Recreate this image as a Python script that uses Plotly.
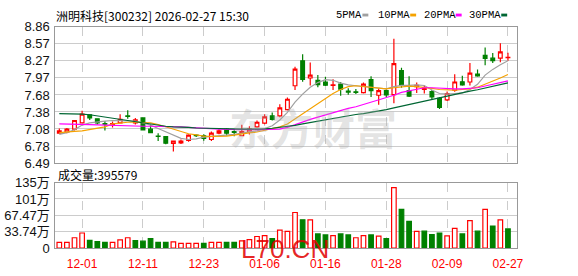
import plotly.graph_objects as go

W, H = 578, 276

dates = ["11-26", "11-27", "11-28",
         "12-01", "12-02", "12-03", "12-04", "12-05", "12-08", "12-09", "12-10", "12-11",
         "12-12", "12-15", "12-16", "12-17", "12-18", "12-19", "12-22", "12-23", "12-24",
         "12-25", "12-26", "12-29", "12-30", "12-31",
         "01-05", "01-06", "01-07", "01-08", "01-09", "01-12", "01-13", "01-14", "01-15",
         "01-16", "01-19", "01-20", "01-21", "01-22", "01-23", "01-26", "01-27", "01-28",
         "01-29", "01-30",
         "02-02", "02-03", "02-04", "02-05", "02-06", "02-09", "02-10", "02-11", "02-12",
         "02-13", "02-24", "02-25", "02-26", "02-27"]

opens = [7.01, 7.03, 7.08, 7.19, 7.33, 7.26, 7.175, 7.16, 7.19, 7.31,
         7.19, 7.275, 7.08, 6.96, 6.95, 6.83, 6.84, 6.885, 6.975, 6.965,
         6.90, 7.01, 7.08, 7.035, 6.965, 7.03, 7.12, 7.185, 7.31, 7.31,
         7.42, 7.835, 8.27, 7.97, 7.93, 7.90, 7.84, 7.865, 7.74, 7.73,
         7.715, 7.94, 7.67, 7.75, 7.68, 8.10, 7.75, 7.82, 7.77, 7.735,
         7.615, 7.59, 7.76, 7.905, 7.90, 8.04, 8.365, 8.315, 8.315, 8.325]
highs = [7.09, 7.10, 7.23, 7.40, 7.34, 7.27, 7.22, 7.215, 7.34, 7.41,
         7.275, 7.28, 7.16, 7.01, 6.95, 6.875, 6.90, 6.99, 6.99, 6.99,
         7.04, 7.08, 7.10, 7.06, 7.155, 7.13, 7.23, 7.34, 7.37, 7.515,
         7.63, 8.165, 8.385, 8.24, 8.02, 7.99, 7.95, 7.90, 7.79, 7.78,
         7.89, 8.00, 7.79, 7.77, 8.655, 8.15, 8.00, 7.89, 7.84, 7.76,
         7.64, 7.735, 8.035, 8.01, 8.23, 8.12, 8.50, 8.405, 8.575, 8.41]
lows = [7.00, 7.01, 7.055, 7.19, 7.24, 7.16, 7.055, 7.11, 7.19, 7.26,
        7.16, 7.065, 7.01, 6.875, 6.815, 6.69, 6.82, 6.86, 6.945, 6.88,
        6.875, 6.99, 6.97, 6.955, 6.96, 6.985, 7.105, 7.165, 7.23, 7.285,
        7.405, 7.76, 7.905, 7.84, 7.81, 7.83, 7.76, 7.66, 7.68, 7.69,
        7.70, 7.64, 7.505, 7.64, 7.53, 7.80, 7.64, 7.71, 7.70, 7.60,
        7.43, 7.57, 7.73, 7.835, 7.84, 7.99, 8.19, 8.23, 8.245, 8.27]
closes = [7.05, 7.08, 7.23, 7.34, 7.275, 7.19, 7.165, 7.175, 7.25, 7.30,
          7.24, 7.065, 7.02, 6.955, 6.835, 6.87, 6.87, 6.975, 6.965, 6.92,
          7.01, 7.05, 7.01, 7.025, 7.035, 7.08, 7.20, 7.295, 7.25, 7.45,
          7.60, 8.125, 7.945, 8.02, 7.855, 7.845, 7.85, 7.775, 7.725, 7.72,
          7.865, 7.75, 7.75, 7.675, 8.22, 7.845, 7.655, 7.84, 7.805, 7.64,
          7.46, 7.70, 7.90, 7.85, 8.055, 8.005, 8.31, 8.27, 8.425, 8.33]

ma5 = [6.99, 7.02, 7.07, 7.15, 7.19, 7.21, 7.22, 7.23, 7.23, 7.23,
       7.22, 7.19, 7.15, 7.09, 7.03, 6.97, 6.92, 6.90, 6.91, 6.94,
       6.95, 6.96, 6.98, 6.99, 7.01, 7.03, 7.05, 7.09, 7.14, 7.24,
       7.37, 7.55, 7.69, 7.81, 7.89, 7.94, 7.93, 7.88, 7.85, 7.835,
       7.82, 7.81, 7.79, 7.78, 7.82, 7.84, 7.84, 7.85, 7.84, 7.76,
       7.70, 7.69, 7.70, 7.71, 7.77, 7.86, 8.02, 8.12, 8.20, 8.27]
ma10 = [7.02, 7.035, 7.04, 7.05, 7.07, 7.09, 7.12, 7.17, 7.19, 7.20,
        7.20, 7.20, 7.19, 7.16, 7.12, 7.07, 7.03, 7.00, 6.98, 6.96,
        6.955, 6.955, 6.96, 6.975, 7.00, 7.015, 7.03, 7.06, 7.09, 7.12,
        7.17, 7.26, 7.34, 7.43, 7.53, 7.62, 7.70, 7.77, 7.82, 7.835,
        7.82, 7.81, 7.79, 7.78, 7.80, 7.82, 7.83, 7.82, 7.81, 7.79,
        7.77, 7.76, 7.76, 7.77, 7.78, 7.81, 7.86, 7.91, 7.97, 8.03]
ma20 = [7.17, 7.17, 7.17, 7.16, 7.16, 7.155, 7.15, 7.14, 7.135, 7.13,
        7.13, 7.13, 7.13, 7.13, 7.125, 7.12, 7.12, 7.11, 7.10, 7.09,
        7.085, 7.08, 7.075, 7.07, 7.07, 7.07, 7.07, 7.07, 7.07, 7.08,
        7.11, 7.16, 7.21, 7.25, 7.29, 7.33, 7.37, 7.41, 7.44, 7.47,
        7.51, 7.54, 7.58, 7.62, 7.67, 7.72, 7.75, 7.78, 7.80, 7.80,
        7.79, 7.78, 7.78, 7.78, 7.79, 7.80, 7.83, 7.86, 7.89, 7.92]
ma30 = [7.35, 7.35, 7.35, 7.34, 7.33, 7.31, 7.28, 7.26, 7.245, 7.23,
        7.21, 7.18, 7.16, 7.145, 7.13, 7.12, 7.12, 7.11, 7.10, 7.095,
        7.09, 7.085, 7.08, 7.08, 7.08, 7.08, 7.08, 7.085, 7.095, 7.11,
        7.12, 7.145, 7.17, 7.195, 7.215, 7.24, 7.265, 7.29, 7.31, 7.335,
        7.35, 7.37, 7.39, 7.42, 7.45, 7.48, 7.505, 7.535, 7.565, 7.59,
        7.62, 7.65, 7.68, 7.71, 7.74, 7.765, 7.795, 7.825, 7.855, 7.885]

volumes_wan = [11.7, 11.7, 21.4, 31.2, 16.2, 13.6, 11.7, 11.7, 16.9, 21.4,
               15.6, 14.3, 19.5, 11.7, 11.7, 13.0, 9.7, 9.7, 9.7, 9.7,
               11.7, 11.7, 11.7, 11.7, 14.9, 17.5, 24.0, 25.9, 19.5, 37.0,
               34.4, 73.4, 58.4, 58.4, 29.2, 27.3, 25.9, 29.2, 27.3, 21.4,
               25.9, 27.3, 24.7, 19.5, 124.6, 79.8, 55.2, 34.4, 35.0, 27.9,
               31.2, 25.3, 40.9, 29.2, 56.5, 35.0, 79.8, 45.4, 58.4, 39.5579]
vol_up = [1, 1, 1, 1, 0, 0, 0, 1, 1, 1,
          0, 0, 0, 0, 0, 1, 1, 1, 1, 0,
          1, 1, 0, 0, 1, 1, 1, 1, 0, 1,
          1, 1, 0, 1, 0, 0, 1, 0, 0, 1,
          1, 0, 1, 0, 1, 0, 0, 1, 0, 0,
          0, 1, 1, 0, 1, 0, 1, 0, 1, 0]

label_idx = [3, 11, 19, 27, 35, 43, 51, 59]
price_ticktext = ["6.49", "6.78", "7.08", "7.38", "7.68", "7.97", "8.27", "8.57", "8.86"]
price_min, price_max = 6.49, 8.86
vol_ticktext = ["0", "33.74万", "67.47万", "101万", "135万"]
vol_max = 134.94
title_text = "洲明科技[300232] 2026-02-27 15:30"
vol_title = "成交量:395579"
ma_names = ["5PMA", "10PMA", "20PMA", "30PMA"]
ma_colors = ["#a0a0a0", "#f5a200", "#ff00ff", "#006633"]

UP = "#ff0000"
DOWN = "#008000"


def px(x):
    return x / W


def py(y):
    return 1 - y / H


xs = list(range(len(dates)))
fig = go.Figure()

fig.add_trace(go.Candlestick(
    x=xs, open=opens, high=highs, low=lows, close=closes,
    increasing=dict(fillcolor="#ffffff", line=dict(color=UP, width=1.2)),
    decreasing=dict(fillcolor=DOWN, line=dict(color=DOWN, width=1.2)),
    whiskerwidth=0, xaxis="x", yaxis="y", showlegend=False, hoverinfo="skip"))

for vals, col in zip([ma5, ma10, ma20, ma30], ma_colors):
    fig.add_trace(go.Scatter(x=xs, y=vals, mode="lines",
                             line=dict(color=col, width=1.2),
                             xaxis="x", yaxis="y", showlegend=False, hoverinfo="skip"))

fig.add_trace(go.Bar(
    x=xs, y=volumes_wan, width=0.6,
    marker=dict(color=["#ffffff" if u else DOWN for u in vol_up],
                line=dict(color=[UP if u else DOWN for u in vol_up], width=1.2)),
    xaxis="x2", yaxis="y2", showlegend=False, hoverinfo="skip"))

n = len(price_ticktext) - 1
price_tickvals = [price_min + k * (price_max - price_min) / n for k in range(n + 1)]
m = len(vol_ticktext) - 1
vol_tickvals = [k * vol_max / m for k in range(m + 1)]

xr = [-0.51, 60.2]
xdom = [px(56), px(522.5)]
common_x = dict(range=xr, domain=xdom, showline=True, mirror=True, linecolor="#999999",
                linewidth=1, showgrid=True, gridcolor="#cccccc", griddash="dash",
                gridwidth=1, zeroline=False, tickvals=label_idx, ticks="")
fig.update_layout(
    width=W, height=H, autosize=False,
    margin=dict(l=0, r=0, t=0, b=0),
    paper_bgcolor="#ffffff", plot_bgcolor="#ffffff",
    boxgap=0.3,
    xaxis=dict(**common_x, anchor="y", showticklabels=False, rangeslider=dict(visible=False)),
    xaxis2=dict(**common_x, anchor="y2", matches="x",
                ticktext=[dates[i] for i in label_idx],
                tickfont=dict(family="Liberation Sans", size=12, color="#ff0000"),
                ticklabelstandoff=4),
    yaxis=dict(domain=[py(165), py(21)], range=[price_min, price_max],
               tickvals=price_tickvals, ticktext=price_ticktext,
               showline=True, mirror=True, linecolor="#999999", linewidth=1,
               showgrid=True, gridcolor="#cccccc", zeroline=False, ticks="",
               tickfont=dict(family="Liberation Sans", size=13, color="#111111"),
               ticklabelstandoff=2),
    yaxis2=dict(domain=[py(255), py(185.7)], range=[0, vol_max],
                tickvals=vol_tickvals, ticktext=vol_ticktext,
                showline=True, mirror=True, linecolor="#999999", linewidth=1,
                showgrid=True, gridcolor="#cccccc", zeroline=False, ticks="",
                tickfont=dict(family="Liberation Sans, Noto Sans CJK SC", size=13, color="#111111"),
                ticklabelstandoff=2),
)

annotations = [
    dict(text="东方财富", x=px(316), y=py(92), xref="paper", yref="paper",
         showarrow=False,
         font=dict(family="Noto Sans CJK SC", size=42, weight=700, color="rgba(170,170,170,0.33)")),
    dict(text=title_text, x=px(55), y=py(8.5), xref="paper", yref="paper",
         xanchor="left", yanchor="middle", showarrow=False,
         font=dict(family="Noto Sans CJK SC", size=12, color="#000000")),
    dict(text=vol_title, x=px(57), y=py(177), xref="paper", yref="paper",
         xanchor="left", yanchor="middle", showarrow=False,
         font=dict(family="Noto Sans CJK SC", size=12, color="#000000")),
    dict(text="L70.CN", x=px(288), y=py(256), xref="paper", yref="paper",
         xanchor="center", yanchor="middle", showarrow=False,
         font=dict(family="Liberation Sans", size=26, color="rgba(225,0,0,0.85)")),
]
shapes = []
leg_text_x = [338, 380, 426, 472]
for name, col, lx in zip(ma_names, ma_colors, leg_text_x):
    annotations.append(dict(text=name, x=px(lx), y=py(8.5), xref="paper", yref="paper",
                            xanchor="left", yanchor="middle", showarrow=False,
                            font=dict(family="Liberation Mono", size=10.5, color="#000000")))
    w = len(name) * 6.3
    shapes.append(dict(type="rect", xref="paper", yref="paper",
                       x0=px(lx + w + 3), x1=px(lx + w + 9), y0=py(10), y1=py(7),
                       fillcolor=col, line=dict(width=0)))
fig.update_layout(annotations=annotations, shapes=shapes)

fig.write_html("out.html")
